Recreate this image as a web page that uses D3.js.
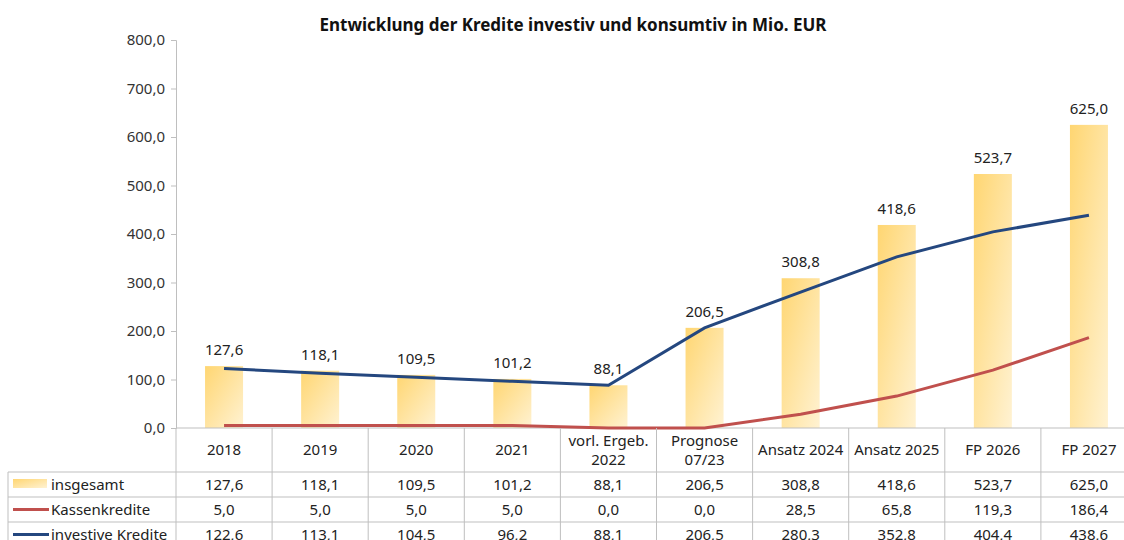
<!DOCTYPE html>
<html>
<head>
<meta charset="utf-8">
<script src="https://d3js.org/d3.v7.min.js"></script>
<style>
  body { margin: 0; padding: 0; background: #fff; }
  svg { display: block; font-family: "Noto Sans", "Open Sans", sans-serif; }
</style>
</head>
<body>
<div id="chart"></div>
<script>
var categories = ["2018", "2019", "2020", "2021", "vorl. Ergeb.|2022", "Prognose|07/23",
                  "Ansatz 2024", "Ansatz 2025", "FP 2026", "FP 2027"];
var insgesamt = [127.6, 118.1, 109.5, 101.2, 88.1, 206.5, 308.8, 418.6, 523.7, 625.0];
var kassenkredite = [5.0, 5.0, 5.0, 5.0, 0.0, 0.0, 28.5, 65.8, 119.3, 186.4];
var investiv = [122.6, 113.1, 104.5, 96.2, 88.1, 206.5, 280.3, 352.8, 404.4, 438.6];
var yTicks = [0, 100, 200, 300, 400, 500, 600, 700, 800];

var W = 1124, H = 540;
var plotLeft = 176, plotRight = 1137, plotTop = 40, base = 428;
var grid = "#bfbfbf";
var fmt = function(v) { return d3.format(".1f")(v).replace(".", ","); };

var svg = d3.select("#chart").append("svg").attr("width", W).attr("height", H);

var defs = svg.append("defs");
var grad = defs.append("linearGradient").attr("id", "barGrad")
  .attr("x1", 0).attr("y1", 0).attr("x2", 1).attr("y2", 1);
grad.append("stop").attr("offset", "0%").attr("stop-color", "#ffd672");
grad.append("stop").attr("offset", "100%").attr("stop-color", "#fff2d2");

var x = d3.scaleBand().domain(d3.range(categories.length)).range([plotLeft, plotRight]);
var y = d3.scaleLinear().domain([0, 800]).range([base, plotTop]);

svg.append("text").attr("x", 573).attr("y", 31).attr("text-anchor", "middle")
  .attr("font-size", 17).attr("font-weight", "bold").attr("fill", "#111")
  .text("Entwicklung der Kredite investiv und konsumtiv in Mio. EUR");

// y axis
var yAxis = d3.axisLeft(y).tickValues(yTicks).tickSize(5).tickFormat(fmt);
var ya = svg.append("g").attr("transform", "translate(" + plotLeft + ",0)").call(yAxis);
ya.select(".domain").attr("stroke", grid);
ya.selectAll(".tick line").attr("stroke", grid);
ya.selectAll(".tick text").attr("font-size", 15).attr("fill", "#333")
  .attr("x", -11).attr("font-family", "\"Noto Sans\", sans-serif");

// bars
var bw = 38;
svg.selectAll("rect.bar").data(insgesamt).enter().append("rect")
  .attr("class", "bar")
  .attr("x", function(d, i) { return x(i) + x.bandwidth() / 2 - bw / 2; })
  .attr("y", function(d) { return y(d); })
  .attr("width", bw)
  .attr("height", function(d) { return base - y(d); })
  .attr("fill", "url(#barGrad)");

svg.selectAll("text.lbl").data(insgesamt).enter().append("text")
  .attr("class", "lbl")
  .attr("x", function(d, i) { return x(i) + x.bandwidth() / 2; })
  .attr("y", function(d) { return y(d) - 11; })
  .attr("text-anchor", "middle").attr("font-size", 15).attr("fill", "#222")
  .text(fmt);

// baseline
svg.append("line").attr("x1", plotLeft).attr("x2", plotRight).attr("y1", base).attr("y2", base)
  .attr("stroke", grid);

var line = d3.line()
  .x(function(d, i) { return x(i) + x.bandwidth() / 2; })
  .y(function(d) { return y(d); });

svg.append("path").datum(kassenkredite).attr("d", line)
  .attr("fill", "none").attr("stroke", "#c0504d").attr("stroke-width", 3);
svg.append("path").datum(investiv).attr("d", line)
  .attr("fill", "none").attr("stroke", "#24477f").attr("stroke-width", 3);

// data table
var headBottom = 472, rowH = 25, tableLeft = 8;
var rows = [
  { name: "insgesamt", values: insgesamt, type: "bar" },
  { name: "Kassenkredite", values: kassenkredite, type: "line", color: "#c0504d" },
  { name: "investive Kredite", values: investiv, type: "line", color: "#24477f" }
];
var tableBottom = headBottom + rowH * rows.length;

var tg = svg.append("g");
d3.range(categories.length + 1).forEach(function(i) {
  var xx = i < categories.length ? x(i) : plotRight;
  tg.append("line").attr("x1", xx).attr("x2", xx).attr("y1", base).attr("y2", tableBottom)
    .attr("stroke", grid);
});
tg.append("line").attr("x1", tableLeft).attr("x2", tableLeft)
  .attr("y1", headBottom).attr("y2", tableBottom).attr("stroke", grid);
d3.range(rows.length + 1).forEach(function(r) {
  var yy = headBottom + r * rowH;
  tg.append("line").attr("x1", tableLeft).attr("x2", plotRight).attr("y1", yy).attr("y2", yy)
    .attr("stroke", grid);
});

// header labels
categories.forEach(function(c, i) {
  var parts = c.split("|");
  var cx = x(i) + x.bandwidth() / 2;
  var t = tg.append("text").attr("text-anchor", "middle").attr("font-size", 15).attr("fill", "#222");
  if (parts.length === 1) {
    t.append("tspan").attr("x", cx).attr("y", 455).text(parts[0]);
  } else {
    t.append("tspan").attr("x", cx).attr("y", 446).text(parts[0]);
    t.append("tspan").attr("x", cx).attr("y", 465).text(parts[1]);
  }
});

rows.forEach(function(row, r) {
  var yy = headBottom + r * rowH;
  if (row.type === "bar") {
    tg.append("rect").attr("x", 13).attr("y", yy + 7).attr("width", 34).attr("height", 9)
      .attr("fill", "url(#barGrad)");
  } else {
    tg.append("line").attr("x1", 13).attr("x2", 49).attr("y1", yy + 12.5).attr("y2", yy + 12.5)
      .attr("stroke", row.color).attr("stroke-width", 3);
  }
  tg.append("text").attr("x", 51).attr("y", yy + 18).attr("font-size", 15).attr("fill", "#222")
    .text(row.name);
  row.values.forEach(function(v, i) {
    tg.append("text").attr("x", x(i) + x.bandwidth() / 2).attr("y", yy + 18)
      .attr("text-anchor", "middle").attr("font-size", 15).attr("fill", "#222").text(fmt(v));
  });
});
</script>
</body>
</html>
